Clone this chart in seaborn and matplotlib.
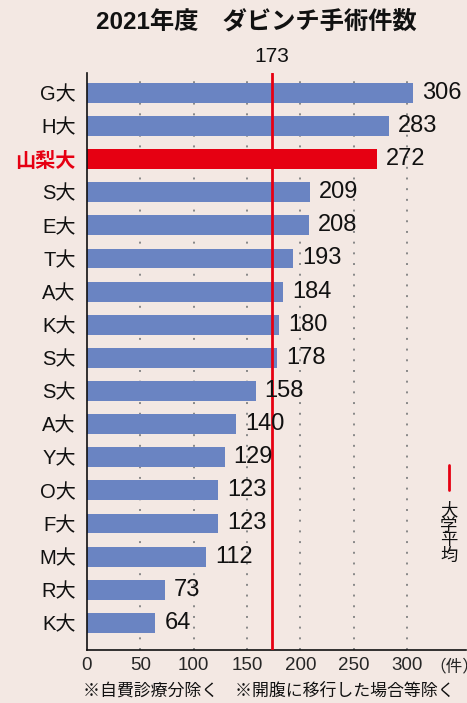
import matplotlib
matplotlib.use("Agg")
import matplotlib.pyplot as plt
import seaborn as sns
import pandas as pd

universities = ["G大", "H大", "山梨大", "S大", "E大", "T大", "A大", "K大", "S大",
                "S大", "A大", "Y大", "O大", "F大", "M大", "R大", "K大"]
counts = [306, 283, 272, 209, 208, 193, 184, 180, 178, 158, 140, 129, 123, 123, 112, 73, 64]
highlight = "山梨大"
average = 173
xticks = [0, 50, 100, 150, 200, 250, 300]

BG = "#F3E8E3"
BLUE = "#6A84C2"
RED = "#E60012"

sns.set_theme(style="white")
plt.rcParams['font.family'] = ['Liberation Sans', 'Noto Sans CJK JP']

df = pd.DataFrame({
    "key": [f"{i}" for i in range(len(universities))],
    "name": universities,
    "count": counts,
})
df["grp"] = ["hl" if n == highlight else "n" for n in df["name"]]

fig = plt.figure(figsize=(4.67, 7.03), dpi=100, facecolor=BG)
ax = fig.add_axes([87/467, 1 - 650/703, 379/467, (650 - 73)/703])
ax.set_facecolor(BG)

for x in xticks[1:]:
    ax.axvline(x, color="#888888", linestyle=(0, (1, 4.5)), linewidth=1.4, zorder=0)

sns.barplot(data=df, x="count", y="key", hue="grp", palette={"hl": RED, "n": BLUE},
            width=0.6, dodge=False, legend=False, ax=ax, zorder=2, saturation=1,
            linewidth=0, edgecolor="none")

ax.set_xlim(0, 355.3)
ax.set_ylim(16.82, -0.6)
ax.set_yticks(range(len(universities)))
ax.set_yticklabels(universities, fontsize=14.5)
for lbl, n in zip(ax.get_yticklabels(), universities):
    if n == highlight:
        lbl.set_color(RED)
        lbl.set_fontweight("bold")
    else:
        lbl.set_color("#111111")
ax.tick_params(axis="y", length=0, pad=8)
ax.set_xticks(xticks)
ax.set_xticklabels([str(v) for v in xticks], fontsize=13.5)
ax.tick_params(axis="x", length=0, pad=5)
ax.set_xlabel("")
ax.set_ylabel("")

for s in ["top", "right"]:
    ax.spines[s].set_visible(False)
for s in ["left", "bottom"]:
    ax.spines[s].set_color("#111111")
    ax.spines[s].set_linewidth(1.2)

for i, v in enumerate(counts):
    ax.text(v + 8.5, i, str(v), va="center", ha="left", fontsize=17, color="#111111", zorder=4)

ax.axvline(average, color=RED, linewidth=2, zorder=3)
ax.text(average, -0.6 - 0.5, str(average), ha="center", va="center", fontsize=15,
        color="#111111", clip_on=False)

fig.text(429/467, 1 - 667/703, "（件）", ha="left", va="center", fontsize=12,
         family=['Noto Sans CJK JP'])

fig.text(256/467, 1 - 22/703, "2021年度　ダビンチ手術件数", ha="center", va="center",
         fontsize=17.5, fontweight="bold", color="#111111")
fig.text(83/467, 1 - 690/703, "※自費診療分除く　※開腹に移行した場合等除く", ha="left",
         va="center", fontsize=12.2, color="#111111")

# legend for average line
fig.add_artist(plt.Line2D([449/467, 449/467], [1 - 465/703, 1 - 490/703],
                          color=RED, linewidth=2, transform=fig.transFigure))
fig.text(449/467, 1 - 533/703, "大\n学\n平\n均", ha="center", va="center",
         fontsize=12.5, linespacing=0.95, color="#111111")

fig.savefig("out.png", dpi=100, facecolor=BG)
